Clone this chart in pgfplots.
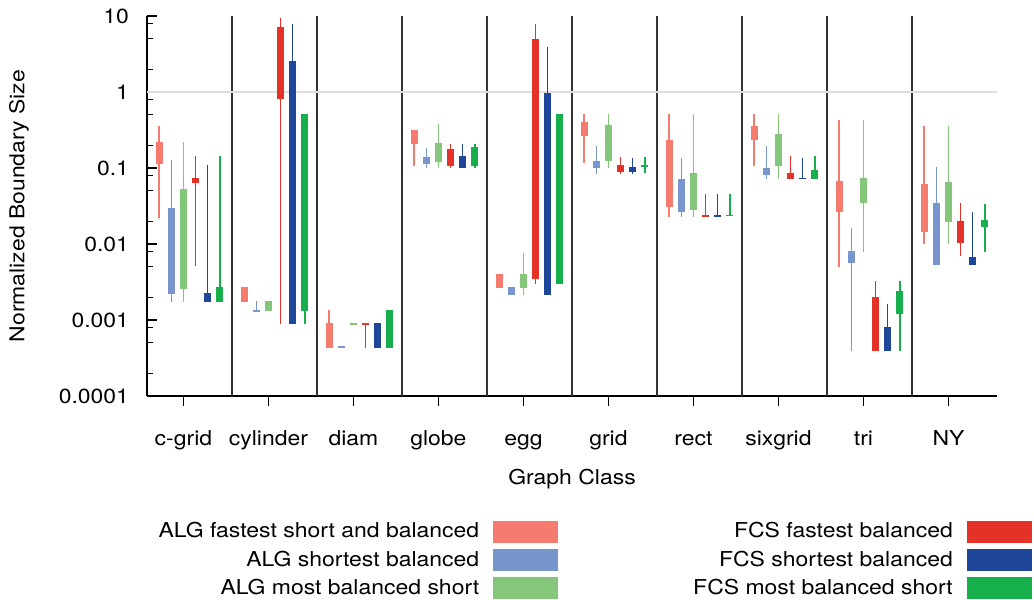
\documentclass[border=0pt]{standalone}
\usepackage{fontspec}
\setmainfont{TeX Gyre Heros}[FakeStretch=1.12]
\usepackage{pgfplots}
\pgfplotsset{compat=1.18}
\definecolor{cA}{HTML}{F47B6E}
\definecolor{cB}{HTML}{7896CD}
\definecolor{cC}{HTML}{84C77B}
\definecolor{cD}{HTML}{E53228}
\definecolor{cE}{HTML}{1E4699}
\definecolor{cF}{HTML}{17AE4C}
\pgfplotsset{
  whisk/.style={#1, line width=1.5bp, forget plot, unbounded coords=jump},
  boxx/.style={#1, line width=7bp, unbounded coords=jump,
    legend image code/.code={\fill[#1] (0bp,-7.5bp) rectangle (58bp,7.5bp);}},
}
\begin{document}
\fontsize{20.5bp}{24bp}\selectfont
\begin{tikzpicture}
\useasboundingbox (0,0) rectangle (1034bp,600bp);
\begin{axis}[
  at={(147bp,204bp)}, anchor=south west,
  scale only axis, width=850bp, height=380bp,
  ymode=log, ymin=1e-4, ymax=10,
  xmin=-0.428571, xmax=9.571429,
  axis x line*=bottom, axis y line*=left,
  axis line style={black, line width=1.2bp},
  xtick={0,...,9},
  xticklabels={c-grid,cylinder,diam,globe,egg,grid,rect,sixgrid,tri,NY},
  ytick={1e-4,1e-3,1e-2,0.1,1,10},
  yticklabels={0.0001,0.001,0.01,0.1,1,10},
  minor ytick={2e-4,5e-4,8e-4,2e-3,5e-3,8e-3,0.02,0.05,0.08,0.2,0.5,0.8,2,5,8},
  major tick length=10bp, minor tick length=6bp,
  tick style={black, line width=1.2bp},
  xtick style={yshift=-10bp},
  /pgf/number format/assume math mode=true,
  xticklabel style={anchor=base, yshift=-49bp},
  yticklabel style={anchor=east, xshift=-11bp},
  extra x ticks={0.571429,1.571429,2.571429,3.571429,4.571429,5.571429,6.571429,7.571429,8.571429},
  extra x tick labels={},
  extra x tick style={major tick length=0pt, grid=major, major grid style={black!80, line width=1.3bp}},
  extra y ticks={1},
  extra y tick labels={},
  extra y tick style={major tick length=0pt, grid=major, major grid style={black!13, line width=1.6bp}},
  xlabel={Graph Class},
  ylabel={Normalized Boundary Size},
  every axis x label/.style={at={(axis description cs:0.5,-0.2184)}, anchor=center},
  every axis y label/.style={at={(axis description cs:-0.1506,0.5)}, anchor=center, rotate=90},
  legend columns=2,
  legend plot pos=right,
  legend cell align=right,
  legend style={at={(1.0412,-0.327)}, anchor=north east, draw=none, fill=none,
    inner sep=0pt, row sep=6bp,
    /tikz/every odd column/.append style={column sep=12bp},
    /tikz/every even column/.append style={column sep=133bp}},
]
% ---------- whiskers ----------
\addplot[whisk=cA, x filter/.expression={x-0.285714}] coordinates {
(0,0.0217)(0,0.358)(0,nan)
(2,0.000431)(2,0.00135)(2,nan)
(3,0.1066)(3,0.314)(3,nan)
(5,0.1168)(5,0.506)(5,nan)
(6,0.0228)(6,0.506)(6,nan)
(7,0.1066)(7,0.506)(7,nan)
(8,0.00501)(8,0.425)(8,nan)
(9,0.00996)(9,0.355)};
\addplot[whisk=cB, x filter/.expression={x-0.142857}] coordinates {
(0,0.00174)(0,0.1256)(0,nan)
(1,0.00128)(1,0.00179)(1,nan)
(3,0.1004)(3,0.1806)(3,nan)
(5,0.0822)(5,0.1936)(5,nan)
(6,0.0228)(6,0.1334)(6,nan)
(7,0.0713)(7,0.1954)(7,nan)
(8,0.000391)(8,0.0160)(8,nan)
(9,0.00523)(9,0.1016)};
\addplot[whisk=cC, x filter/.expression={x}] coordinates {
(0,0.00174)(0,0.220)(0,nan)
(3,0.1004)(3,0.377)(3,nan)
(4,0.00215)(4,0.00752)(4,nan)
(5,0.1004)(5,0.506)(5,nan)
(6,0.0228)(6,0.506)(6,nan)
(7,0.0713)(7,0.506)(7,nan)
(8,0.00775)(8,0.425)(8,nan)
(9,0.00996)(9,0.355)};
\addplot[whisk=cD, x filter/.expression={x+0.142857}] coordinates {
(0,0.00516)(0,0.1443)(0,nan)
(1,0.000877)(1,9.53)(1,nan)
(2,0.000431)(2,0.000903)(2,nan)
(3,0.1004)(3,0.2057)(3,nan)
(4,0.00300)(4,7.95)(4,nan)
(5,0.0822)(5,0.1387)(5,nan)
(6,0.0226)(6,0.0457)(6,nan)
(7,0.0713)(7,0.1443)(7,nan)
(8,0.000391)(8,0.00322)(8,nan)
(9,0.00693)(9,0.0342)};
\addplot[whisk=cE, x filter/.expression={x+0.285714}] coordinates {
(0,0.00174)(0,0.109)(0,nan)
(1,0.000877)(1,7.95)(1,nan)
(3,0.1004)(3,0.2057)(3,nan)
(4,0.00215)(4,3.91)(4,nan)
(5,0.0822)(5,0.1334)(5,nan)
(6,0.0224)(6,0.0457)(6,nan)
(7,0.0709)(7,0.1334)(7,nan)
(8,0.000391)(8,0.00161)(8,nan)
(9,0.00523)(9,0.0260)};
\addplot[whisk=cF, x filter/.expression={x+0.428571}] coordinates {
(0,0.00174)(0,0.1443)(0,nan)
(1,0.000877)(1,0.506)(1,nan)
(3,0.1004)(3,0.2057)(3,nan)
(4,0.00300)(4,0.506)(4,nan)
(5,0.0863)(5,0.1387)(5,nan)
(6,0.0231)(6,0.0457)(6,nan)
(7,0.0713)(7,0.1443)(7,nan)
(8,0.000391)(8,0.00322)(8,nan)
(9,0.00775)(9,0.0331)};
% ---------- boxes (legend order row-wise) ----------
\addplot[boxx=cA, x filter/.expression={x-0.285714}] coordinates {
(0,0.112)(0,0.218)(0,nan)
(1,0.00174)(1,0.00269)(1,nan)
(2,0.000431)(2,0.000903)(2,nan)
(3,0.204)(3,0.314)(3,nan)
(4,0.00261)(4,0.00402)(4,nan)
(5,0.264)(5,0.409)(5,nan)
(6,0.0308)(6,0.2344)(6,nan)
(7,0.237)(7,0.355)(7,nan)
(8,0.0260)(8,0.0671)(8,nan)
(9,0.0143)(9,0.0613)};
\addlegendentry{ALG fastest short and balanced}
\addplot[boxx=cD, x filter/.expression={x+0.142857}] coordinates {
(0,0.0626)(0,0.0741)(0,nan)
(1,0.820)(1,7.17)(1,nan)
(2,0.000858)(2,0.000903)(2,nan)
(3,0.1066)(3,0.1784)(3,nan)
(4,0.00348)(4,5.04)(4,nan)
(5,0.0889)(5,0.1079)(5,nan)
(6,0.0226)(6,0.0238)(6,nan)
(7,0.0713)(7,0.0847)(7,nan)
(8,0.000391)(8,0.00200)(8,nan)
(9,0.0104)(9,0.0200)};
\addlegendentry{FCS fastest balanced}
\addplot[boxx=cB, x filter/.expression={x-0.142857}] coordinates {
(0,0.00217)(0,0.0294)(0,nan)
(1,0.00128)(1,0.00135)(1,nan)
(2,0.000431)(2,0.000454)(2,nan)
(3,0.1133)(3,0.1387)(3,nan)
(4,0.00215)(4,0.00271)(4,nan)
(5,0.1004)(5,0.1218)(5,nan)
(6,0.0265)(6,0.0706)(6,nan)
(7,0.0805)(7,0.1004)(7,nan)
(8,0.00556)(8,0.00799)(8,nan)
(9,0.00523)(9,0.0345)};
\addlegendentry{ALG shortest balanced}
\addplot[boxx=cE, x filter/.expression={x+0.285714}] coordinates {
(0,0.00174)(0,0.00224)(0,nan)
(1,0.000877)(1,2.59)(1,nan)
(2,0.000431)(2,0.000903)(2,nan)
(3,0.1004)(3,0.1430)(3,nan)
(4,0.00215)(4,0.963)(4,nan)
(5,0.0873)(5,0.1016)(5,nan)
(6,0.0224)(6,0.0238)(6,nan)
(7,0.0709)(7,0.0735)(7,nan)
(8,0.000391)(8,0.000800)(8,nan)
(9,0.00523)(9,0.00672)};
\addlegendentry{FCS shortest balanced}
\addplot[boxx=cC, x filter/.expression={x}] coordinates {
(0,0.00258)(0,0.0522)(0,nan)
(1,0.00131)(1,0.00179)(1,nan)
(2,0.00087)(2,0.000903)(2,nan)
(3,0.1204)(3,0.2165)(3,nan)
(4,0.00261)(4,0.00402)(4,nan)
(5,0.124)(5,0.373)(5,nan)
(6,0.0279)(6,0.0847)(6,nan)
(7,0.1066)(7,0.284)(7,nan)
(8,0.0342)(8,0.0728)(8,nan)
(9,0.0196)(9,0.0645)};
\addlegendentry{ALG most balanced short}
\addplot[boxx=cF, x filter/.expression={x+0.428571}] coordinates {
(0,0.00174)(0,0.00269)(0,nan)
(1,0.00131)(1,0.506)(1,nan)
(2,0.000431)(2,0.00135)(2,nan)
(3,0.1066)(3,0.1878)(3,nan)
(4,0.00300)(4,0.506)(4,nan)
(5,0.1016)(5,0.1088)(5,nan)
(6,0.0231)(6,0.0242)(6,nan)
(7,0.0713)(7,0.0928)(7,nan)
(8,0.00119)(8,0.00240)(8,nan)
(9,0.0165)(9,0.0206)};
\addlegendentry{FCS most balanced short}
\end{axis}
\end{tikzpicture}
\end{document}
